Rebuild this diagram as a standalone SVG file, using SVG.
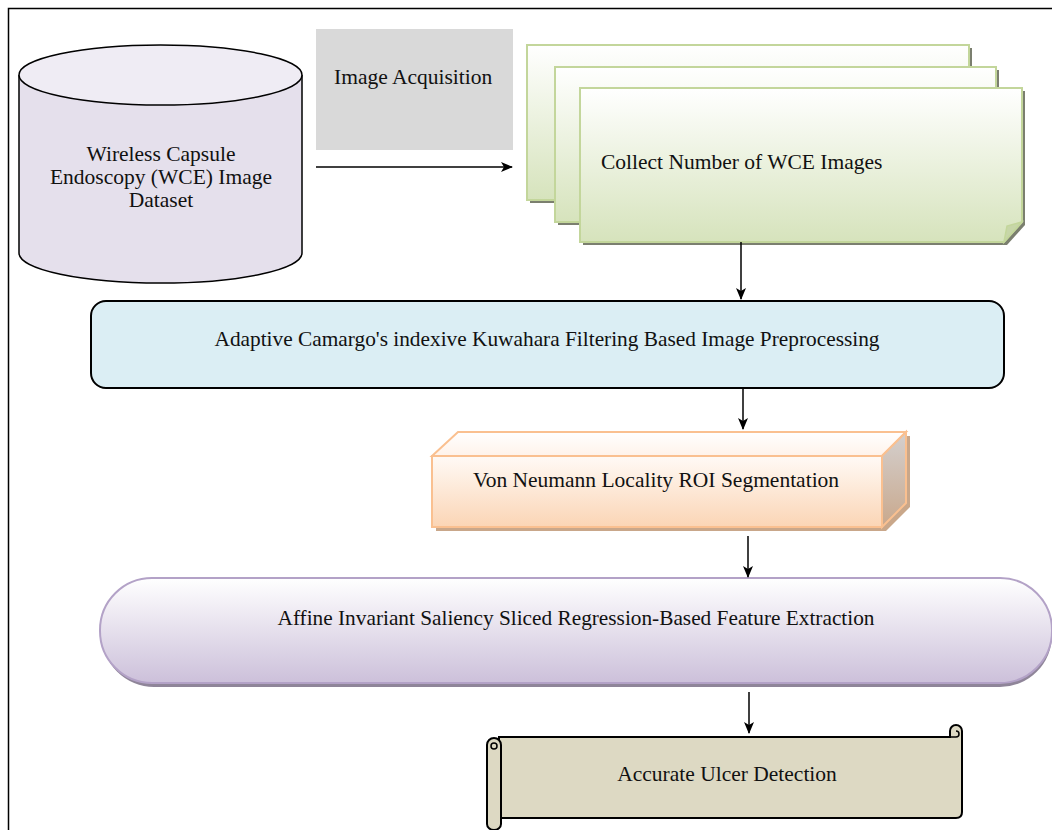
<svg xmlns="http://www.w3.org/2000/svg" width="1052" height="830" viewBox="0 0 1052 830">
<style>
text{font-family:"Liberation Serif","Times New Roman",serif;font-size:21.5px;fill:#111}
.conn line{stroke:#000;stroke-width:1.5}
</style>
<defs>
<marker id="ah" markerWidth="12" markerHeight="10" refX="11" refY="5" orient="auto" markerUnits="userSpaceOnUse">
<path d="M0,0 L12,5 L0,10 L3,5 Z" fill="#000"/>
</marker>
<linearGradient id="gGreen" x1="0" y1="0" x2="0" y2="1"><stop offset="0" stop-color="#ffffff"/><stop offset="1" stop-color="#d6e3bc"/></linearGradient>
<linearGradient id="gOrange" x1="0" y1="0" x2="0" y2="1"><stop offset="0" stop-color="#fffaf6"/><stop offset="1" stop-color="#fbd5b5"/></linearGradient>
<linearGradient id="gOrangeTop" x1="0" y1="0" x2="0" y2="1"><stop offset="0" stop-color="#ffffff"/><stop offset="1" stop-color="#fff3ea"/></linearGradient>
<linearGradient id="gOrangeSide" x1="0" y1="0" x2="0" y2="1"><stop offset="0" stop-color="#d4d0cf"/><stop offset="1" stop-color="#c9a88c"/></linearGradient>
<linearGradient id="gPurple" x1="0" y1="0" x2="0" y2="1"><stop offset="0" stop-color="#ffffff"/><stop offset="1" stop-color="#ccc0da"/></linearGradient>
</defs>

<rect x="8.5" y="8.5" width="1100" height="900" fill="none" stroke="#000" stroke-width="1.5"/>

<g id="dataset">
<path d="M19,75 V253 A141.5,30 0 0 0 302,253 V75" fill="#e5e0ec" stroke="#000" stroke-width="1.5"/>
<ellipse cx="160.5" cy="75" rx="141.5" ry="30" fill="#efecf4" stroke="#000" stroke-width="1.5"/>
<text x="161" y="161" text-anchor="middle">Wireless Capsule</text>
<text x="161" y="184" text-anchor="middle">Endoscopy (WCE) Image</text>
<text x="161" y="207" text-anchor="middle">Dataset</text>
</g>

<g id="acquisition">
<rect x="316" y="29" width="197" height="121" fill="#d9d9d9"/>
<text x="334" y="84">Image Acquisition</text>
</g>

<g id="collect">
<rect x="530" y="48" width="442" height="155" fill="#7b7f6f"/>
<rect x="527" y="45" width="442" height="155" fill="url(#gGreen)" stroke="#c3d69b" stroke-width="2"/>
<rect x="558" y="70" width="441" height="155" fill="#7b7f6f"/>
<rect x="555" y="67" width="441" height="155" fill="url(#gGreen)" stroke="#c3d69b" stroke-width="2"/>
<path d="M583,91 H1025 V225 L1007,245 H583 Z" fill="#7b7f6f"/>
<path d="M580,88 H1022 V222 L1004,242 H580 Z" fill="url(#gGreen)" stroke="#c3d69b" stroke-width="2"/>
<path d="M1004,242 L1007,226 L1022,222 Z" fill="#c7d6a8" stroke="#c3d69b" stroke-width="1.5"/>
<text x="601" y="169">Collect Number of WCE Images</text>
</g>

<g id="preprocessing">
<rect x="91" y="301" width="913" height="87" rx="15" fill="#dbeef4" stroke="#000" stroke-width="2"/>
<text x="547" y="346" text-anchor="middle" textLength="665" lengthAdjust="spacingAndGlyphs">Adaptive Camargo's indexive Kuwahara Filtering Based Image Preprocessing</text>
</g>

<g id="segmentation">
<path d="M436,460 L462,436 H910 V507 L886,531 H436 Z" fill="#c9a78a"/>
<path d="M432,456 L458,432 H906 L882,456 Z" fill="url(#gOrangeTop)" stroke="#fac090" stroke-width="2"/>
<path d="M882,456 L906,432 V503 L882,527 Z" fill="url(#gOrangeSide)" stroke="#fac090" stroke-width="2"/>
<rect x="432" y="456" width="450" height="71" fill="url(#gOrange)" stroke="#fac090" stroke-width="2"/>
<text x="656" y="487" text-anchor="middle">Von Neumann Locality ROI Segmentation</text>
</g>

<g id="features">
<rect x="102" y="582" width="950" height="105" rx="52" fill="#8f8599"/>
<rect x="100" y="578" width="952" height="105" rx="52" fill="url(#gPurple)" stroke="#b3a2c7" stroke-width="2"/>
<text x="576" y="625" text-anchor="middle" textLength="597" lengthAdjust="spacingAndGlyphs">Affine Invariant Saliency Sliced Regression-Based Feature Extraction</text>
</g>

<g id="detection">
<path d="M499,737 H950 V731 A6,6 0 0 1 962,731 V812 Q962,818 956,818 H499 Z" fill="#ddd9c3" stroke="#000" stroke-width="2"/>
<path d="M950,737 H956 A3,3 0 0 0 956,731" fill="none" stroke="#000" stroke-width="1.5"/>
<path d="M487,745 A7,7 0 0 1 501,745 V824 A7,6 0 0 1 487,824 Z" fill="#ddd9c3" stroke="#000" stroke-width="2"/>
<circle cx="494" cy="746" r="3" fill="none" stroke="#000" stroke-width="1.5"/>
<text x="727" y="781" text-anchor="middle">Accurate Ulcer Detection</text>
</g>

<g class="conn" id="connectors">
<line x1="316" y1="167" x2="512" y2="167" marker-end="url(#ah)"/>
<line x1="741" y1="242" x2="741" y2="299" marker-end="url(#ah)"/>
<line x1="743" y1="388" x2="743" y2="429" marker-end="url(#ah)"/>
<line x1="748" y1="536" x2="748" y2="577" marker-end="url(#ah)"/>
<line x1="749" y1="692" x2="749" y2="733" marker-end="url(#ah)"/>
</g>
</svg>
